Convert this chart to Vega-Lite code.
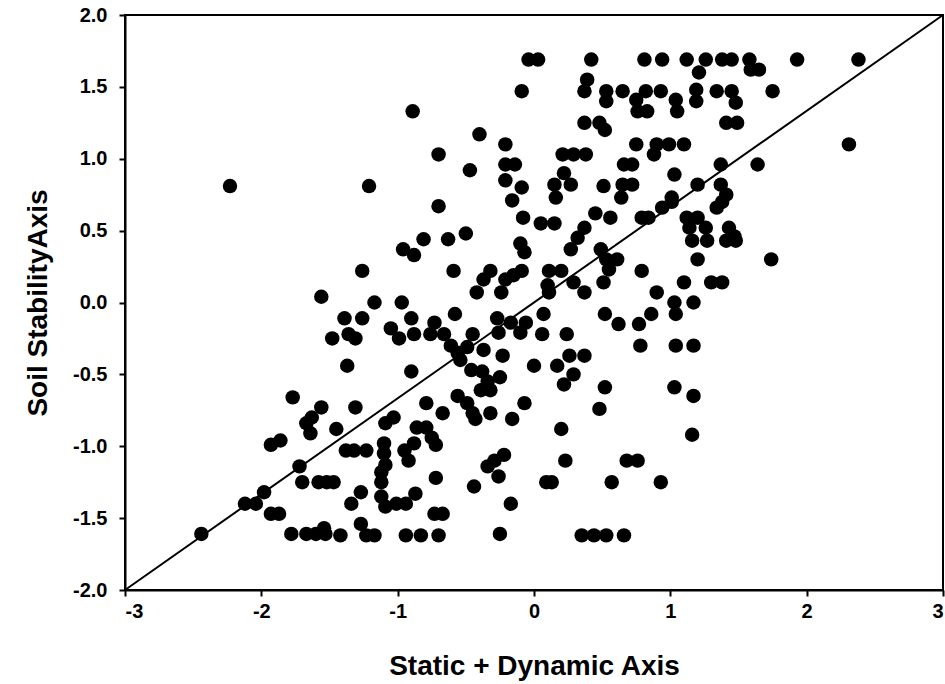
{
  "$schema": "https://vega.github.io/schema/vega-lite/v6.json",
  "autosize": "none",
  "width": 818,
  "height": 575,
  "padding": {"left": 125, "top": 15, "right": 2, "bottom": 94},
  "background": "white",
  "config": {
    "view": {"stroke": "black", "strokeWidth": 2},
    "font": "Liberation Sans"
  },
  "datasets": {
    "pts": [
      {"x":-2.23,"y":0.81},{"x":-0.04,"y":1.69},{"x":0.03,"y":1.69},{"x":-0.09,"y":1.47},{"x":-0.89,"y":1.33},
      {"x":-0.40,"y":1.17},{"x":-0.21,"y":1.10},{"x":-0.70,"y":1.03},{"x":-0.21,"y":0.96},{"x":-0.14,"y":0.96},
      {"x":-0.47,"y":0.92},{"x":-0.21,"y":0.85},{"x":-0.09,"y":0.80},{"x":-1.21,"y":0.81},{"x":-0.16,"y":0.71},
      {"x":-0.70,"y":0.67},{"x":0.42,"y":1.69},{"x":0.81,"y":1.69},{"x":0.94,"y":1.69},{"x":1.12,"y":1.69},
      {"x":1.26,"y":1.69},{"x":1.38,"y":1.69},{"x":1.45,"y":1.69},{"x":1.21,"y":1.60},{"x":1.58,"y":1.69},
      {"x":1.59,"y":1.62},{"x":1.65,"y":1.62},{"x":1.93,"y":1.69},{"x":2.38,"y":1.69},{"x":1.75,"y":1.47},
      {"x":2.31,"y":1.10},{"x":1.64,"y":0.96},{"x":1.49,"y":1.25},{"x":0.39,"y":1.55},{"x":0.37,"y":1.47},
      {"x":0.53,"y":1.47},{"x":0.53,"y":1.40},{"x":0.65,"y":1.47},{"x":0.82,"y":1.47},{"x":0.93,"y":1.47},
      {"x":0.75,"y":1.41},{"x":0.76,"y":1.33},{"x":0.83,"y":1.33},{"x":1.04,"y":1.41},{"x":1.05,"y":1.33},
      {"x":1.19,"y":1.48},{"x":1.19,"y":1.40},{"x":1.34,"y":1.47},{"x":1.45,"y":1.47},{"x":1.48,"y":1.39},
      {"x":0.37,"y":1.25},{"x":0.48,"y":1.25},{"x":0.52,"y":1.20},{"x":1.41,"y":1.25},{"x":0.75,"y":1.10},
      {"x":0.90,"y":1.10},{"x":0.99,"y":1.10},{"x":1.10,"y":1.10},{"x":0.88,"y":1.03},{"x":0.21,"y":1.03},
      {"x":0.29,"y":1.03},{"x":0.38,"y":1.03},{"x":0.66,"y":0.96},{"x":0.72,"y":0.96},{"x":1.03,"y":0.89},
      {"x":0.22,"y":0.90},{"x":0.15,"y":0.82},{"x":0.27,"y":0.82},{"x":0.16,"y":0.73},{"x":0.51,"y":0.81},
      {"x":0.65,"y":0.82},{"x":0.72,"y":0.82},{"x":0.64,"y":0.73},{"x":1.20,"y":0.82},{"x":1.37,"y":0.96},
      {"x":1.37,"y":0.82},{"x":1.41,"y":0.75},{"x":1.01,"y":0.73},{"x":1.47,"y":0.46},{"x":1.74,"y":0.30},
      {"x":0.05,"y":0.55},{"x":0.15,"y":0.55},{"x":0.45,"y":0.62},{"x":0.56,"y":0.59},{"x":0.79,"y":0.59},
      {"x":0.84,"y":0.59},{"x":0.94,"y":0.66},{"x":1.01,"y":0.70},{"x":1.34,"y":0.66},{"x":1.38,"y":0.70},
      {"x":1.12,"y":0.59},{"x":1.20,"y":0.59},{"x":1.14,"y":0.52},{"x":1.26,"y":0.52},{"x":1.16,"y":0.43},
      {"x":1.27,"y":0.43},{"x":1.43,"y":0.52},{"x":1.41,"y":0.43},{"x":1.48,"y":0.43},{"x":0.37,"y":0.52},
      {"x":0.32,"y":0.45},{"x":0.27,"y":0.37},{"x":0.49,"y":0.37},{"x":0.53,"y":0.30},{"x":0.61,"y":0.30},
      {"x":0.55,"y":0.23},{"x":0.51,"y":0.14},{"x":0.79,"y":0.22},{"x":1.20,"y":0.30},{"x":0.11,"y":0.22},
      {"x":0.20,"y":0.22},{"x":0.29,"y":0.14},{"x":0.37,"y":0.07},{"x":0.10,"y":0.12},{"x":0.11,"y":0.07},
      {"x":1.10,"y":0.14},{"x":1.30,"y":0.14},{"x":1.38,"y":0.14},{"x":0.90,"y":0.07},{"x":1.03,"y":0.00},
      {"x":1.04,"y":-0.08},{"x":1.17,"y":0.00},{"x":0.07,"y":-0.08},{"x":0.52,"y":-0.08},{"x":0.62,"y":-0.15},
      {"x":0.77,"y":-0.15},{"x":0.86,"y":-0.08},{"x":0.06,"y":-0.22},{"x":0.24,"y":-0.22},{"x":0.78,"y":-0.30},
      {"x":1.04,"y":-0.30},{"x":1.17,"y":-0.30},{"x":0.26,"y":-0.37},{"x":0.37,"y":-0.37},{"x":0.00,"y":-0.44},
      {"x":0.17,"y":-0.44},{"x":0.29,"y":-0.50},{"x":0.22,"y":-0.57},{"x":0.52,"y":-0.59},{"x":1.03,"y":-0.59},
      {"x":1.17,"y":-0.65},{"x":-0.08,"y":0.59},{"x":-0.81,"y":0.44},{"x":-0.63,"y":0.44},{"x":-0.50,"y":0.48},
      {"x":-0.96,"y":0.37},{"x":-0.88,"y":0.33},{"x":-0.10,"y":0.41},{"x":-0.07,"y":0.35},{"x":-1.26,"y":0.22},
      {"x":-0.59,"y":0.22},{"x":-0.32,"y":0.22},{"x":-0.37,"y":0.16},{"x":-0.42,"y":0.07},{"x":-0.09,"y":0.22},
      {"x":-0.15,"y":0.19},{"x":-0.21,"y":0.16},{"x":-0.24,"y":0.07},{"x":-1.56,"y":0.04},{"x":-1.17,"y":0.00},
      {"x":-0.97,"y":0.00},{"x":-0.58,"y":-0.08},{"x":-1.39,"y":-0.11},{"x":-1.26,"y":-0.11},{"x":-0.90,"y":-0.11},
      {"x":-1.48,"y":-0.25},{"x":-1.36,"y":-0.22},{"x":-1.31,"y":-0.25},{"x":-1.05,"y":-0.18},{"x":-0.99,"y":-0.25},
      {"x":-0.88,"y":-0.22},{"x":-0.73,"y":-0.14},{"x":-0.76,"y":-0.22},{"x":-0.66,"y":-0.22},{"x":-0.61,"y":-0.30},
      {"x":-0.45,"y":-0.22},{"x":-0.56,"y":-0.35},{"x":-0.49,"y":-0.31},{"x":-0.37,"y":-0.33},{"x":-0.54,"y":-0.40},
      {"x":-0.46,"y":-0.47},{"x":-0.38,"y":-0.48},{"x":-0.34,"y":-0.55},{"x":-0.27,"y":-0.11},{"x":-0.17,"y":-0.14},
      {"x":-0.06,"y":-0.14},{"x":-0.10,"y":-0.21},{"x":-0.26,"y":-0.21},{"x":-0.23,"y":-0.37},{"x":-0.25,"y":-0.52},
      {"x":-1.37,"y":-0.44},{"x":-0.90,"y":-0.48},{"x":-0.56,"y":-0.65},{"x":-1.77,"y":-0.66},{"x":-1.56,"y":-0.73},
      {"x":-1.63,"y":-0.80},{"x":-1.67,"y":-0.84},{"x":-1.64,"y":-0.91},{"x":-1.93,"y":-0.99},{"x":-1.86,"y":-0.96},
      {"x":-1.72,"y":-1.14},{"x":-1.70,"y":-1.25},{"x":-1.58,"y":-1.25},{"x":-1.52,"y":-1.25},{"x":-1.98,"y":-1.32},
      {"x":-2.04,"y":-1.40},{"x":-2.12,"y":-1.40},{"x":-1.93,"y":-1.47},{"x":-1.87,"y":-1.47},{"x":-2.44,"y":-1.61},
      {"x":-1.78,"y":-1.61},{"x":-1.67,"y":-1.61},{"x":-1.60,"y":-1.61},{"x":-1.53,"y":-1.61},{"x":-1.31,"y":-0.73},
      {"x":-1.45,"y":-0.88},{"x":-1.09,"y":-0.84},{"x":-1.03,"y":-0.80},{"x":-0.79,"y":-0.70},{"x":-0.67,"y":-0.77},
      {"x":-0.49,"y":-0.70},{"x":-0.45,"y":-0.77},{"x":-0.43,"y":-0.81},{"x":-0.39,"y":-0.61},{"x":-0.32,"y":-0.61},
      {"x":-0.32,"y":-0.77},{"x":-0.16,"y":-0.81},{"x":-0.07,"y":-0.70},{"x":-1.38,"y":-1.03},{"x":-1.32,"y":-1.03},
      {"x":-1.23,"y":-1.03},{"x":-1.10,"y":-0.98},{"x":-1.10,"y":-1.05},{"x":-1.09,"y":-1.13},{"x":-1.12,"y":-1.18},
      {"x":-1.12,"y":-1.25},{"x":-0.95,"y":-1.03},{"x":-0.88,"y":-0.98},{"x":-0.92,"y":-1.10},{"x":-0.86,"y":-0.87},
      {"x":-0.79,"y":-0.87},{"x":-0.72,"y":-0.99},{"x":-0.75,"y":-0.94},{"x":-0.72,"y":-1.22},{"x":-1.47,"y":-1.25},
      {"x":-1.27,"y":-1.32},{"x":-1.34,"y":-1.40},{"x":-1.12,"y":-1.35},{"x":-1.09,"y":-1.42},{"x":-1.01,"y":-1.40},
      {"x":-0.94,"y":-1.40},{"x":-0.87,"y":-1.33},{"x":-0.73,"y":-1.47},{"x":-0.67,"y":-1.47},{"x":-1.54,"y":-1.57},
      {"x":-1.42,"y":-1.62},{"x":-1.27,"y":-1.54},{"x":-1.23,"y":-1.62},{"x":-1.17,"y":-1.62},{"x":-0.94,"y":-1.62},
      {"x":-0.83,"y":-1.62},{"x":-0.70,"y":-1.62},{"x":-0.44,"y":-1.28},{"x":-0.34,"y":-1.14},{"x":-0.29,"y":-1.10},
      {"x":-0.22,"y":-1.06},{"x":-0.26,"y":-1.21},{"x":-0.17,"y":-1.40},{"x":-0.25,"y":-1.61},{"x":0.20,"y":-0.88},
      {"x":0.23,"y":-1.10},{"x":0.09,"y":-1.25},{"x":0.13,"y":-1.25},{"x":0.48,"y":-0.74},{"x":0.57,"y":-1.25},
      {"x":0.68,"y":-1.10},{"x":0.76,"y":-1.10},{"x":0.93,"y":-1.25},{"x":1.16,"y":-0.92},{"x":0.35,"y":-1.62},
      {"x":0.44,"y":-1.62},{"x":0.53,"y":-1.62},{"x":0.66,"y":-1.62}
    ],
    "diag": [{"x": -3, "y": -2}, {"x": 3, "y": 2}]
  },
  "layer": [
    {
      "data": {"name": "pts"},
      "mark": {"type": "circle", "size": 210, "color": "black", "opacity": 1},
      "encoding": {
        "x": {
          "field": "x", "type": "quantitative",
          "scale": {"domain": [-3, 3], "nice": false, "zero": false},
          "axis": {
            "title": "Static + Dynamic Axis",
            "values": [-3, -2, -1, 0, 1, 2, 3],
            "labelExpr": "toString(datum.value)",
            "grid": false,
            "domainColor": "black", "domainWidth": 2,
            "tickColor": "black", "tickWidth": 2, "tickSize": 6,
            "labelFont": "Liberation Sans", "labelFontWeight": "bold", "labelFontSize": 20, "labelColor": "black",
            "labelPadding": 5, "labelOverlap": false,
            "titleFont": "Liberation Sans", "titleFontWeight": "bold", "titleFontSize": 28, "titleColor": "black",
            "titlePadding": 31
          }
        },
        "y": {
          "field": "y", "type": "quantitative",
          "scale": {"domain": [-2, 2], "nice": false, "zero": false},
          "axis": {
            "title": "Soil StabilityAxis",
            "values": [-2, -1.5, -1, -0.5, 0, 0.5, 1, 1.5, 2],
            "labelExpr": "replace(format(datum.value, '.1f'), '\u2212', '-')",
            "grid": false,
            "domainColor": "black", "domainWidth": 2,
            "tickColor": "black", "tickWidth": 2, "tickSize": 6,
            "labelFont": "Liberation Sans", "labelFontWeight": "bold", "labelFontSize": 20, "labelColor": "black",
            "labelPadding": 12, "labelOverlap": false,
            "titleFont": "Liberation Sans", "titleFontWeight": "bold", "titleFontSize": 28, "titleColor": "black",
            "titlePadding": 20
          }
        }
      }
    },
    {
      "data": {"name": "diag"},
      "mark": {"type": "line", "color": "black", "strokeWidth": 2},
      "encoding": {
        "x": {"field": "x", "type": "quantitative"},
        "y": {"field": "y", "type": "quantitative"}
      }
    }
  ]
}
